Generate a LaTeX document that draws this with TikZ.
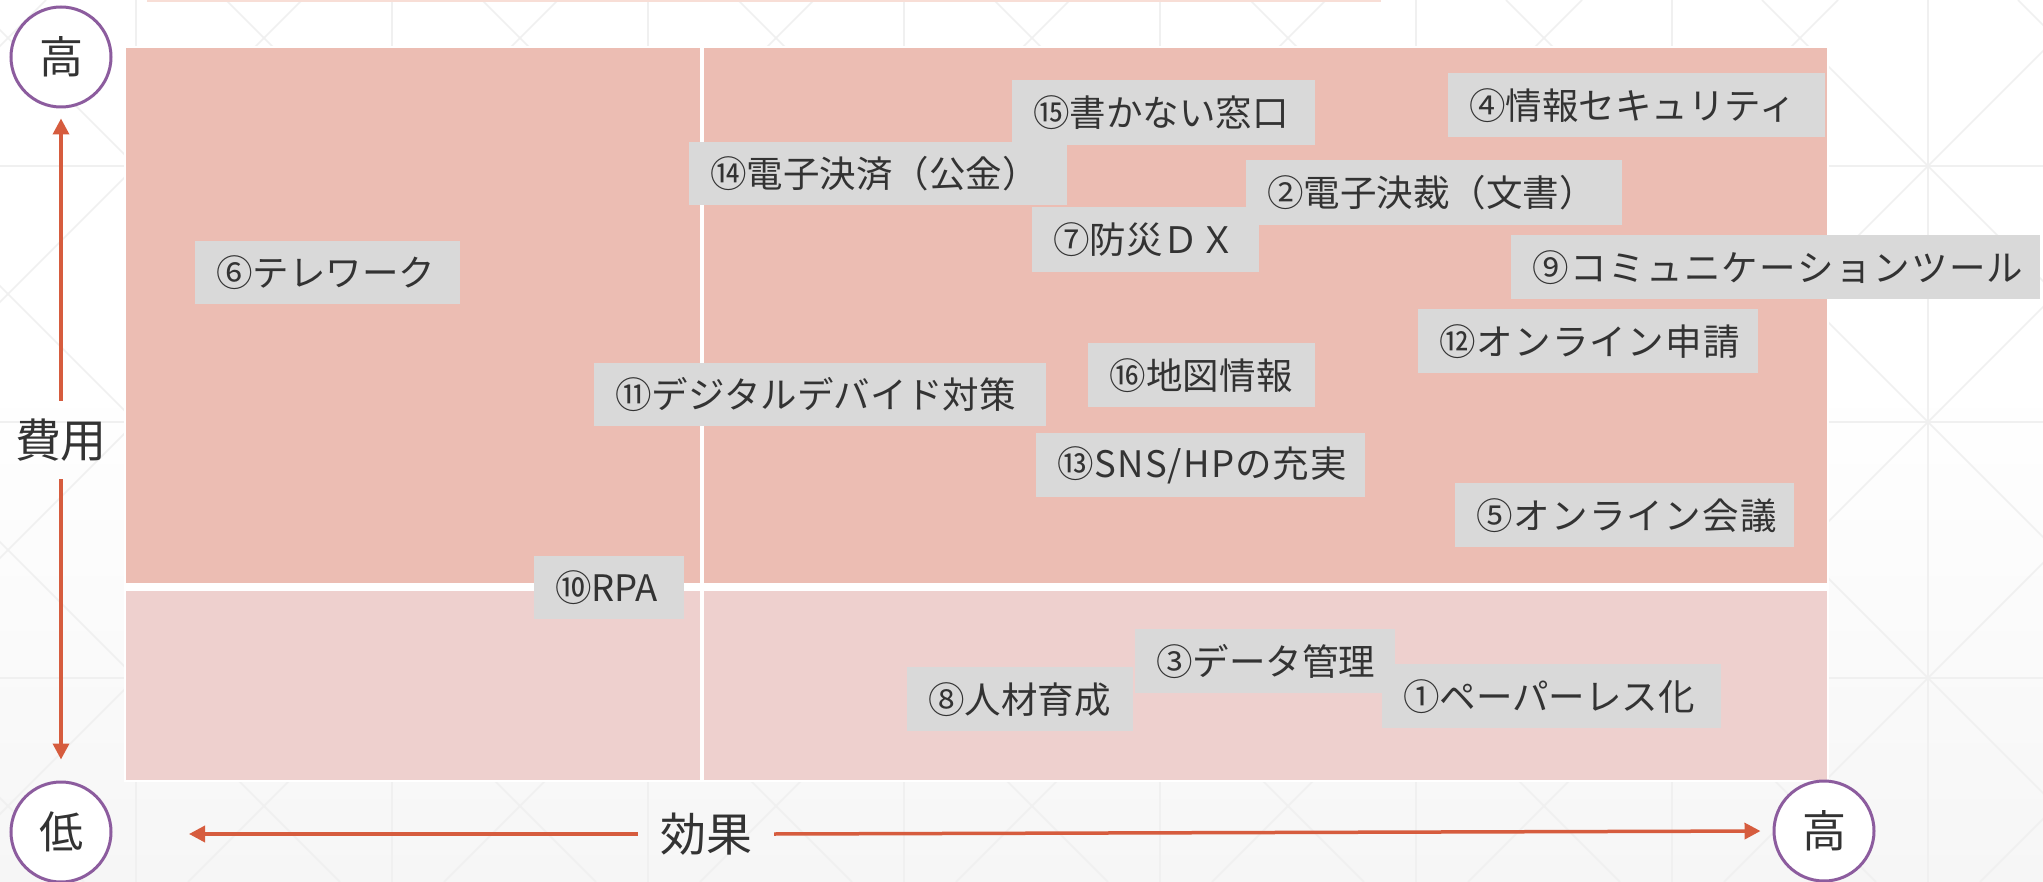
\documentclass[tikz,border=0pt]{standalone}
\usepackage{fontspec}
\setmainfont{Noto Sans CJK JP}
\usetikzlibrary{arrows.meta}
\definecolor{pinkA}{RGB}{236,189,179}
\definecolor{pinkB}{RGB}{238,208,206}
\definecolor{boxgray}{RGB}{217,217,217}
\definecolor{txt}{RGB}{51,51,51}
\definecolor{arrc}{RGB}{214,92,62}
\definecolor{circc}{RGB}{140,92,158}
\definecolor{patt}{RGB}{240,240,240}
\definecolor{bgbot}{RGB}{246,246,246}
\definecolor{stripc}{RGB}{248,222,214}
\newcommand\lsp[2]{{\addfontfeature{LetterSpace=#1}#2}}
\tikzset{
  lbl/.style={fill=boxgray, text=txt, font=\fontsize{36.5}{40}\selectfont,
    inner xsep=21pt, inner ysep=0pt, minimum height=64pt, anchor=north west, align=left},
  circlbl/.style={circle, draw=circc, line width=3pt, fill=white, minimum size=100pt,
    inner sep=0pt, text=txt, font=\fontsize{44}{48}\selectfont},
  axl/.style={text=txt, font=\fontsize{46}{50}\selectfont, inner sep=0pt},
  arr/.style={draw=arrc, line width=3.5pt, -{Triangle[length=16pt,width=16pt]}},
  bgline/.style={draw=patt, line width=1.5pt}
}
\begin{document}
\begin{tikzpicture}[x=1pt,y=-1pt]
\useasboundingbox (0,0) rectangle (2043,882);
% background
\fill[white] (0,0) rectangle (2043,882);
\shade[top color=white,bottom color=bgbot] (0,380) rectangle (2043,882);
\begin{scope}
\clip (0,0) rectangle (2043,882);
\foreach \k in {0,...,7} \draw[bgline] ({136+256*\k},0) -- ({136+256*\k},882);
\foreach \k in {0,1,2} \draw[bgline] (0,{166+256*\k}) -- (2043,{166+256*\k});
\foreach \k in {-4,...,8} \draw[bgline] ({-30+256*\k},0) -- ({852+256*\k},882);
\foreach \k in {0,...,11} \draw[bgline] ({46+256*\k},0) -- ({-836+256*\k},882);
\end{scope}
\fill[stripc] (147,0) rectangle (1381,2.5);
% quadrants
\fill[pinkA] (125,47) rectangle (1828,587);
\fill[pinkB] (125,587) rectangle (1828,781);
\fill[white] (125,583) rectangle (1828,591);
\draw[white, line width=4pt] (702,47) -- (702,781);
\draw[white, line width=2pt] (125,47) rectangle (1828,781);
% labels
\node[lbl, text width=261pt, minimum height=65pt] (n15) at (1012,80) {⑮書かない窓口};
\node[lbl, text width=335pt] (n4) at (1448,73) {④情報セキュリティ};
\node[lbl, text width=336pt, minimum height=63pt] (n14) at (689,142) {⑭電子決済（公金）};
\node[lbl, text width=334pt, minimum height=65pt] (n2) at (1246,160) {②電子決裁（文書）};
\node[lbl, text width=185pt, minimum height=65pt] (n7) at (1032,207) {⑦防災ＤＸ};
\node[lbl, text width=223pt, minimum height=63pt] (n6) at (195,241) {⑥テレワーク};
\node[lbl, text width=487pt] (n9) at (1511,235) {\lsp{4}{⑨コミュニケーションツール}};
\node[lbl, text width=298pt] (n12) at (1418,309) {\lsp{3.3}{⑫オンライン申請}};
\node[lbl, text width=185pt] (n16) at (1088,343) {\lsp{1}{⑯地図情報}};
\node[lbl, text width=410pt, minimum height=63pt] (n11) at (594,363) {⑪デジタルデバイド対策};
\node[lbl, text width=287pt] (n13) at (1036,433) {\lsp{3}{⑬SNS/HPの充実}};
\node[lbl, text width=297pt] (n5) at (1455,483) {\lsp{3.3}{⑤オンライン会議}};
\node[lbl, text width=108pt, minimum height=63pt] (n10) at (534,556) {⑩RPA};
\node[lbl, text width=218pt] (n3) at (1135,629) {③データ管理};
\node[lbl, text width=184pt] (n8) at (907,667) {⑧人材育成};
\node[lbl, text width=297pt] (n1) at (1382,664) {①ペーパーレス化};
% axes
\node[circlbl] (hiY) at (61,57) {高};
\node[circlbl] (loY) at (61,832) {低};
\node[circlbl] (hiX) at (1824,831) {高};
\node[axl, minimum height=78pt] (cost) at (61,440) {費用};
\node[axl, minimum width=136pt] (eff) at (706,834) {効果};
\coordinate (effLo) at (189,834);
\draw[arr, shorten >=10pt] (cost.north) -- (hiY.south);
\draw[arr, shorten >=21pt] (cost.south) -- (loY.north);
\draw[arr] (eff.west) -- (effLo);
\draw[arr, shorten >=12pt] (eff.east) -- (hiX.west);
\end{tikzpicture}
\end{document}
